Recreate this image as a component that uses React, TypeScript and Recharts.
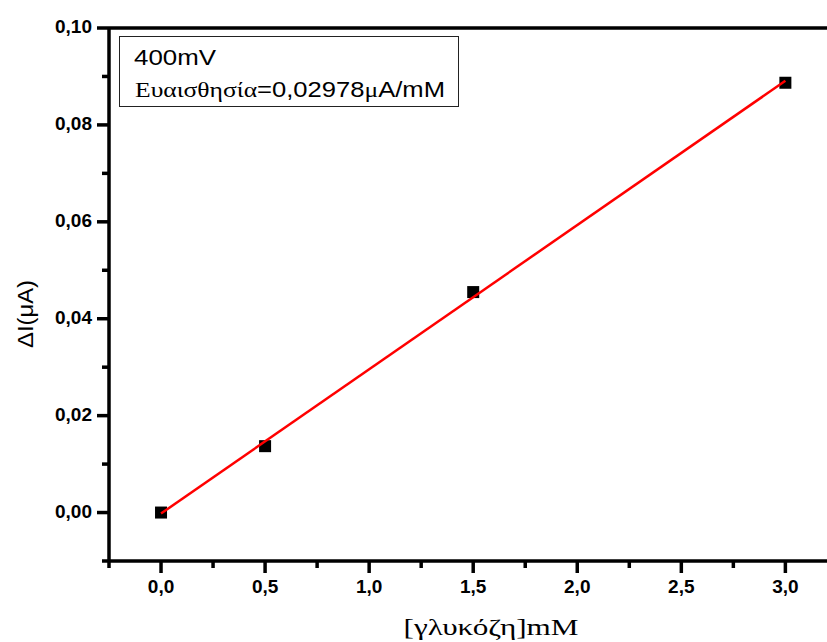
import { ScatterChart, Scatter, XAxis, YAxis, ReferenceLine, Label } from "recharts";

// measured points: [glucose] mM vs ΔI (μA)
const glucose = [0, 0.5, 1.5, 3.0];
const deltaI = [0, 0.0137, 0.0455, 0.0887];

// linear fit end points
const fitX = [0, 3.0];
const fitY = [-0.0002, 0.0891];

const xTicks = [-0.25, 0, 0.25, 0.5, 0.75, 1, 1.25, 1.5, 1.75, 2, 2.25, 2.5, 2.75, 3];
const xMajor = [0, 0.5, 1, 1.5, 2, 2.5, 3];
const yTicks = [-0.01, 0, 0.01, 0.02, 0.03, 0.04, 0.05, 0.06, 0.07, 0.08, 0.09, 0.1];
const yMajor = [0, 0.02, 0.04, 0.06, 0.08, 0.1];

const points = glucose.map((x, i) => ({ x, y: deltaI[i] }));
const fit = fitX.map((x, i) => ({ x, y: fitY[i] }));

const sans = "'Liberation Sans', Arial, sans-serif";
const serif = "'Liberation Serif', 'Times New Roman', serif";

const isMajor = (list: number[], v: number) => list.some((m) => Math.abs(m - v) < 1e-9);

function XTick({ x, y, payload }: any) {
  const v = payload.value;
  const major = isMajor(xMajor, v);
  return (
    <g>
      <line x1={x} y1={y} x2={x} y2={y + (major ? 12 : 7)} stroke="#000" strokeWidth={3.5} />
      {major && (
        <text x={x} y={y + 32} textAnchor="middle" fontFamily={sans} fontWeight="bold" fontSize={19} fill="#000">
          {v.toFixed(1).replace(".", ",")}
        </text>
      )}
    </g>
  );
}

function YTick({ x, y, payload }: any) {
  const v = payload.value;
  const major = isMajor(yMajor, v);
  return (
    <g>
      <line x1={x} y1={y} x2={x - (major ? 12 : 7)} y2={y} stroke="#000" strokeWidth={3.5} />
      {major && (
        <text x={x - 17} y={y + 5} textAnchor="end" fontFamily={sans} fontWeight="bold" fontSize={19} fill="#000">
          {v.toFixed(2).replace(".", ",")}
        </text>
      )}
    </g>
  );
}

const square = (props: any) => (
  <rect x={props.cx - 6} y={props.cy - 6} width={12} height={12} fill="#000" />
);

export default function App() {
  return (
    <div style={{ position: "absolute", left: 0, top: 0, width: 827, height: 642, background: "#fff" }}>
      <ScatterChart width={827} height={642} margin={{ top: 28, right: 0, bottom: 0, left: 0 }}>
        <XAxis
          type="number"
          dataKey="x"
          domain={[-0.25, 3.2]}
          ticks={xTicks}
          interval={0}
          allowDataOverflow
          height={81}
          tickSize={0}
          tickMargin={0}
          tickLine={false}
          axisLine={{ stroke: "#000", strokeWidth: 3.5 }}
          tick={<XTick />}
          label={
            <Label
              content={() => (
                <text
                  x={491}
                  y={635}
                  textAnchor="middle"
                  textLength={175}
                  lengthAdjust="spacingAndGlyphs"
                  fontFamily={serif}
                  fontSize={23}
                  fill="#000"
                >
                  [γλυκόζη]mM
                </text>
              )}
            />
          }
        />
        <YAxis
          type="number"
          dataKey="y"
          domain={[-0.01, 0.1]}
          ticks={yTicks}
          interval={0}
          allowDataOverflow
          width={109}
          tickSize={0}
          tickMargin={0}
          tickLine={false}
          axisLine={{ stroke: "#000", strokeWidth: 3.5 }}
          tick={<YTick />}
          label={
            <Label
              content={() => (
                <text
                  x={25}
                  y={314}
                  transform="rotate(-90 25 314)"
                  textAnchor="middle"
                  dominantBaseline="central"
                  textLength={68}
                  lengthAdjust="spacingAndGlyphs"
                  fontFamily={sans}
                  fontSize={22}
                  fill="#000"
                >
                  ΔI(μA)
                </text>
              )}
            />
          }
        />
        <ReferenceLine y={0.1} stroke="#000" strokeWidth={3.5} />
        <Scatter data={points} shape={square} isAnimationActive={false} />
        <Scatter
          data={fit}
          line={{ stroke: "#ff0000", strokeWidth: 2.5 }}
          shape={() => <g />}
          isAnimationActive={false}
        />
      </ScatterChart>
      <svg width={827} height={642} style={{ position: "absolute", left: 0, top: 0, pointerEvents: "none" }}>
        <rect x={119.5} y={36.5} width={339} height={70} fill="#fff" stroke="#222" strokeWidth={1} />
        <text x={134} y={65} textLength={82} lengthAdjust="spacingAndGlyphs" fontFamily={sans} fontSize={22} fill="#000">
          400mV
        </text>
        <text x={135} y={97} textLength={310} lengthAdjust="spacingAndGlyphs" fontFamily={sans} fontSize={22} fill="#000">
          <tspan fontFamily={serif}>Ευαισθησία</tspan>=0,02978<tspan fontFamily={serif}>μ</tspan>A/mM
        </text>
      </svg>
    </div>
  );
}
